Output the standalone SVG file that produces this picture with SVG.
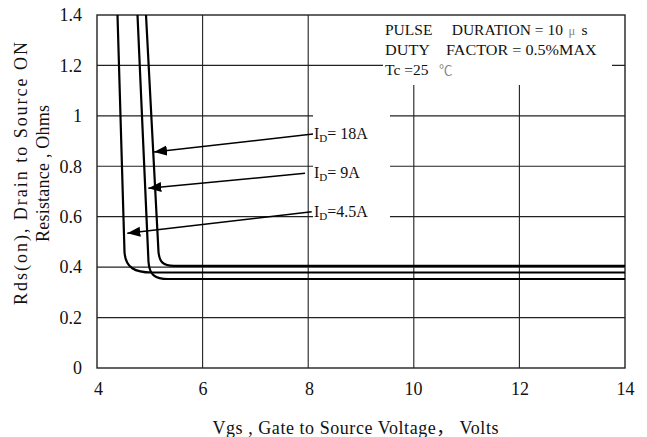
<svg xmlns="http://www.w3.org/2000/svg" width="647" height="437" viewBox="0 0 647 437">
<style>
text{font-family:"Liberation Serif","Times New Roman","Noto Sans CJK SC",serif;fill:#111}
.t{font-size:18px}
.lg{font-size:15.5px}
.lb{font-size:16px}
.grid{stroke:#222;stroke-width:1.1;fill:none}
.curve{stroke:#000;stroke-width:2.2;fill:none;stroke-linejoin:round}
.arr{stroke:#000;stroke-width:1.5;fill:none;marker-end:url(#ah)}
.grey{fill:#888}
</style>
<defs>
<marker id="ah" markerUnits="userSpaceOnUse" markerWidth="14" markerHeight="11" refX="13" refY="5" orient="auto">
<path d="M0,0 L13,5 L0,10 z" fill="#000"/>
</marker>
</defs>
<rect width="647" height="437" fill="#fff"/>
<g id="grid">
<path class="grid" d="M202.6,15V368 M308.2,15V368 M413.8,85V368 M519.4,85V368"/>
<path class="grid" d="M97,65.4H383 M612,65.4H625 M97,115.9H313 M390,115.9H625 M97,166.3H313 M390,166.3H625 M97,216.6H313 M390,216.6H625 M97,267.1H625 M97,317.6H625"/>
<rect id="frame" x="97" y="15" width="528" height="353" fill="none" stroke="#222" stroke-width="1.4"/>
</g>
<g id="ticks">
<g class="t" text-anchor="end">
<text x="82" y="21">1.4</text>
<text x="82" y="71.5">1.2</text>
<text x="82" y="122">1</text>
<text x="82" y="172.5">0.8</text>
<text x="82" y="223">0.6</text>
<text x="82" y="273">0.4</text>
<text x="82" y="323.5">0.2</text>
<text x="82" y="374">0</text>
</g>
<g class="t" text-anchor="middle">
<text x="98.5" y="394.5">4</text>
<text x="203" y="394.5">6</text>
<text x="309.5" y="394.5">8</text>
<text x="413.5" y="394.5">10</text>
<text x="520" y="394.5">12</text>
<text x="625.5" y="394.5">14</text>
</g>
</g>
<g id="axis-titles" class="t" text-anchor="middle" xml:space="preserve">
<text x="355.5" y="433.5" textLength="286" lengthAdjust="spacing">Vgs , Gate to Source Voltage，  Volts</text>
<text transform="translate(27,173.5) rotate(-90)" textLength="263" lengthAdjust="spacing">Rds(on), Drain to Source ON</text>
<text transform="translate(49,173.5) rotate(-90)" textLength="137" lengthAdjust="spacing">Resistance , Ohms</text>
</g>
<g id="legend" class="lg" xml:space="preserve">
<text x="385" y="34.7">PULSE</text>
<text x="451.7" y="34.7">DURATION = 10</text>
<text x="568.5" y="34.7" class="grey" font-size="12.5">μ</text>
<text x="581.5" y="34.7">s</text>
<text x="385" y="55" textLength="45" lengthAdjust="spacingAndGlyphs">DUTY</text>
<text x="446" y="55" textLength="150.7" lengthAdjust="spacingAndGlyphs">FACTOR = 0.5%MAX</text>
<text x="385" y="75">Tc =25</text>
<text x="439" y="75" class="grey" font-size="13.5">℃</text>
</g>
<g id="curves">
<path id="c18" class="curve" d="M146,15 L158.5,252 C159.5,262 163,265.8 174,265.8 L625,265.8"/>
<path id="c9" class="curve" d="M137.5,15 L148.5,262 C149.5,275 155,279 168,279 L625,279"/>
<path id="c45" class="curve" d="M117.5,15 L124.5,252 C125.5,268 135,272.5 152,272.5 L625,272.5"/>
</g>
<g id="connectors">
<path class="arr" d="M313,134 L154,152"/>
<path class="arr" d="M305,173.3 L148.3,188.3"/>
<path class="arr" d="M311.7,211.7 L127.3,233.3"/>
</g>
<g id="label-18A" class="lb"><text x="314" y="139">I<tspan font-size="11" dy="3">D</tspan><tspan dy="-3">= 18A</tspan></text></g>
<g id="label-9A" class="lb"><text x="314" y="178.3">I<tspan font-size="11" dy="3">D</tspan><tspan dy="-3">= 9A</tspan></text></g>
<g id="label-45A" class="lb"><text x="314" y="216.7">I<tspan font-size="11" dy="3">D</tspan><tspan dy="-3">=4.5A</tspan></text></g>
</svg>
